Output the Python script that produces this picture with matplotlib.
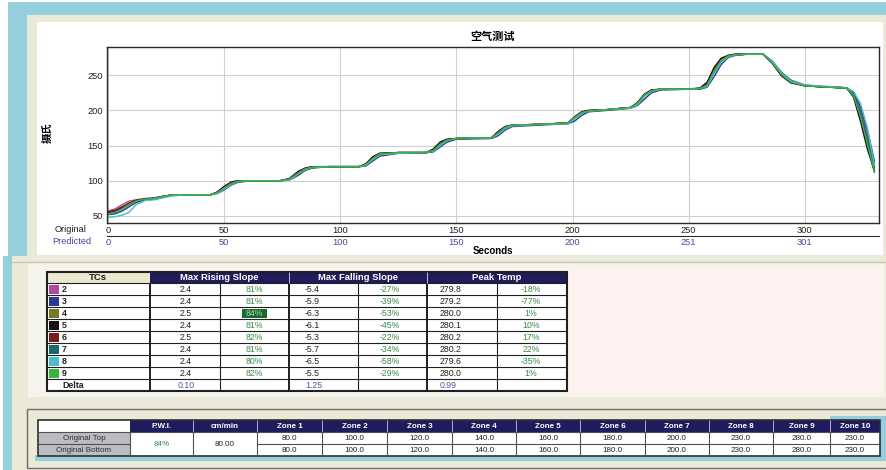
import matplotlib
matplotlib.use('Agg')
import matplotlib.pyplot as plt
from matplotlib.patches import Rectangle

plt.rcParams['font.family'] = ['Liberation Sans', 'Noto Sans CJK SC', 'DejaVu Sans']

# ---- chart data ----
secs = [0, 3, 6, 9, 12, 16, 20, 24, 28, 35, 44, 47, 50, 53, 56, 62, 74, 78, 82, 85,
        88, 95, 108, 111, 114, 117, 125, 137, 140, 143, 146, 150, 165, 168, 171, 174,
        185, 198, 201, 204, 207, 215, 225, 228, 231, 234, 238, 250, 255, 258, 261, 264,
        267, 270, 276, 282, 286, 290, 294, 300, 310, 318, 321, 324, 327, 330]

temp_tc2 = [57, 60, 66, 71, 73, 75, 76, 78, 80, 80, 80, 84, 92, 98, 100, 100, 100, 103, 114, 118,
            120, 120, 120, 124, 134, 139, 140, 140, 144, 154, 159, 160, 161, 169, 177, 179,
            180, 182, 191, 198, 200, 201, 204, 211, 223, 229, 230, 230, 231, 238, 259, 273,
            278, 279, 280, 280, 268, 251, 241, 235, 233, 232, 224, 200, 165, 125]
temp_tc3 = [52, 53, 57, 63, 69, 73, 74, 77, 79, 80, 80, 82, 87, 94, 98, 100, 100, 101, 108, 115,
            118, 120, 120, 121, 128, 135, 139, 140, 141, 148, 155, 159, 160, 164, 172, 177,
            179, 181, 185, 193, 198, 200, 203, 207, 216, 225, 229, 230, 230, 233, 248, 265,
            275, 278, 280, 280, 270, 254, 243, 236, 233, 232, 226, 205, 172, 128]
temp_tc4 = [54, 56, 61, 67, 71, 74, 75, 78, 80, 80, 80, 83, 90, 97, 99, 100, 100, 102, 112, 117,
            119, 120, 120, 123, 133, 138, 140, 140, 143, 153, 158, 160, 161, 168, 176, 179,
            180, 182, 190, 197, 199, 201, 204, 210, 222, 228, 230, 230, 231, 236, 257, 272,
            277, 279, 280, 280, 268, 250, 240, 235, 233, 232, 221, 190, 150, 112]
temp_tc5 = [55, 57, 62, 68, 72, 74, 75, 78, 80, 80, 80, 84, 92, 98, 100, 100, 100, 103, 113, 118,
            120, 120, 120, 124, 134, 139, 140, 140, 145, 155, 159, 160, 161, 170, 177, 179,
            180, 182, 191, 198, 200, 201, 204, 211, 223, 229, 230, 230, 232, 240, 261, 274,
            278, 280, 280, 280, 267, 249, 239, 235, 233, 232, 219, 185, 145, 115]
temp_tc6 = [56, 58, 63, 68, 72, 74, 75, 78, 80, 80, 80, 83, 91, 97, 99, 100, 100, 102, 112, 117,
            119, 120, 120, 123, 132, 138, 140, 140, 143, 153, 158, 160, 161, 168, 176, 179,
            180, 182, 190, 197, 199, 201, 204, 210, 222, 228, 230, 230, 231, 237, 258, 272,
            277, 279, 280, 280, 268, 250, 240, 235, 233, 232, 222, 193, 155, 120]
temp_tc7 = [53, 55, 60, 66, 71, 74, 75, 78, 80, 80, 80, 83, 89, 96, 99, 100, 100, 102, 111, 117,
            119, 120, 120, 122, 131, 137, 140, 140, 142, 151, 157, 160, 161, 167, 175, 178,
            180, 182, 189, 196, 199, 201, 204, 209, 221, 228, 230, 230, 231, 235, 255, 270,
            277, 279, 280, 280, 269, 252, 241, 235, 233, 232, 223, 197, 160, 118]
temp_tc8 = [48, 49, 51, 55, 66, 72, 73, 76, 79, 80, 80, 82, 88, 95, 99, 100, 100, 101, 110, 116,
            119, 120, 120, 122, 130, 137, 139, 140, 142, 150, 157, 160, 161, 166, 174, 178,
            180, 181, 188, 196, 199, 201, 203, 208, 220, 227, 230, 230, 231, 234, 252, 268,
            276, 279, 280, 280, 270, 253, 242, 236, 234, 232, 227, 210, 175, 122]
temp_tc9 = [53, 55, 60, 66, 71, 74, 75, 78, 80, 80, 80, 83, 90, 96, 99, 100, 100, 102, 111, 117,
            119, 120, 120, 123, 132, 138, 140, 140, 143, 152, 158, 160, 161, 168, 176, 179,
            180, 182, 190, 197, 199, 201, 204, 210, 222, 228, 230, 230, 231, 236, 256, 271,
            277, 279, 280, 280, 268, 251, 240, 235, 233, 232, 221, 192, 152, 114]

tc_names = ['2', '3', '4', '5', '6', '7', '8', '9']
tc_colors = ['#b4489e', '#2c3a96', '#727a2a', '#141414', '#7a1a1a', '#1a6a6c', '#4cbcd2', '#3cb23c']
tc_temps = [temp_tc2, temp_tc3, temp_tc4, temp_tc5, temp_tc6, temp_tc7, temp_tc8, temp_tc9]

orig_ticks = [0, 50, 100, 150, 200, 250, 300]
pred_labels = ['0', '50', '100', '150', '200', '251', '301']

rise_vals = ['2.4', '2.4', '2.5', '2.4', '2.5', '2.4', '2.4', '2.4']
rise_pct = ['81%', '81%', '84%', '81%', '82%', '81%', '80%', '82%']
fall_vals = ['-5.4', '-5.9', '-6.3', '-6.1', '-5.3', '-5.7', '-6.5', '-5.5']
fall_pct = ['-27%', '-39%', '-53%', '-45%', '-22%', '-34%', '-58%', '-29%']
peak_vals = ['279.8', '279.2', '280.0', '280.1', '280.2', '280.2', '279.6', '280.0']
peak_pct = ['-18%', '-77%', '1%', '10%', '17%', '22%', '-35%', '1%']
delta_vals = ['0.10', '1.25', '0.99']

zone_names = ['Zone 1', 'Zone 2', 'Zone 3', 'Zone 4', 'Zone 5',
              'Zone 6', 'Zone 7', 'Zone 8', 'Zone 9', 'Zone 10']
zone_top = ['80.0', '100.0', '120.0', '140.0', '160.0', '180.0', '200.0', '230.0', '280.0', '230.0']
zone_bottom = ['80.0', '100.0', '120.0', '140.0', '160.0', '180.0', '200.0', '230.0', '280.0', '230.0']
pwi = '84%'
speed = '80.00'

# colours
BLUE = '#93cfdc'
BEIGE = '#ebe9d8'
NAVY = '#1f1b5c'
GREEN_TXT = '#3a8a48'
DELTA_TXT = '#5454a6'
DARK = '#202020'

W, H = 887, 470
fig = plt.figure(figsize=(W / 100, H / 100), dpi=100)
fig.patch.set_facecolor('white')

# background "screen" drawn in pixel coordinates
bg = fig.add_axes([0, 0, 1, 1], zorder=0)
bg.set_xlim(0, W)
bg.set_ylim(H, 0)
bg.axis('off')


def box(x0, y0, x1, y1, fc, ec='none', lw=0):
    bg.add_patch(Rectangle((x0, y0), x1 - x0, y1 - y0, facecolor=fc, edgecolor=ec, linewidth=lw))


def hl(y, x0, x1, c=DARK, lw=0.8):
    bg.plot([x0, x1], [y, y], color=c, lw=lw, solid_capstyle='butt')


def vl(x, y0, y1, c=DARK, lw=0.8):
    bg.plot([x, x], [y0, y1], color=c, lw=lw, solid_capstyle='butt')


def txt(x, y, s, ha='center', color=DARK, size=6.3, weight='normal'):
    bg.text(x, y, s, ha=ha, va='center', color=color, fontsize=size, fontweight=weight)


# outer window
box(8, 2, W, 15, BLUE)
box(8, 15, 27, 256, BLUE)
box(3, 256, 12, H, BLUE)
box(27, 15, W, 258, BEIGE)
box(37, 22, 883, 255, 'white')
box(12, 256, W, H, BEIGE)
hl(262, 12, W, c='#c9c7b2', lw=1)
box(28, 263, 885, 397, '#f5f4ec')
box(567, 268, 882, 393, '#fdf2ef')

# bottom panel
box(27, 409, W, 468, BEIGE, ec='#6e6e6e', lw=1)
box(35, 455, W, 461, BLUE)
box(830, 416, W, 461, BLUE)

# ---- middle table ----
mcols = [47, 150, 220, 289, 358, 427, 497, 567]
mtop, mhead, mrow = 272, 283, 12
nrows = len(tc_names) + 1
mbot = mhead + mrow * nrows
box(47, mtop, 150, mhead, '#ebe8cf')
box(150, mtop, 567, mhead, NAVY)
box(47, mhead, 567, mbot, 'white')
txt(98, 277.5, 'TCs', weight='bold', size=6.8)
txt(219.5, 277.5, 'Max Rising Slope', color='white', weight='bold', size=6.8)
txt(358, 277.5, 'Max Falling Slope', color='white', weight='bold', size=6.8)
txt(497, 277.5, 'Peak Temp', color='white', weight='bold', size=6.8)

for i, name in enumerate(tc_names):
    yc = mhead + mrow * i + mrow / 2
    box(49, yc - 4.5, 59, yc + 4.5, tc_colors[i])
    txt(62, yc, name, ha='left', weight='bold')
    txt(180, yc, rise_vals[i], ha='left')
    if rise_pct[i] == '84%':
        box(242, yc - 4.5, 267, yc + 4.5, '#17692f')
        txt(254.5, yc, rise_pct[i], color='#a8dcb0')
    else:
        txt(254.5, yc, rise_pct[i], color=GREEN_TXT)
    txt(305, yc, fall_vals[i], ha='left')
    txt(390, yc, fall_pct[i], color=GREEN_TXT)
    txt(440, yc, peak_vals[i], ha='left')
    txt(531, yc, peak_pct[i], color=GREEN_TXT)

yc = mhead + mrow * (nrows - 1) + mrow / 2
txt(62, yc, 'Delta', ha='left', weight='bold')
for x, s in zip([178, 305, 440], delta_vals):
    txt(x, yc, s, ha='left', color=DELTA_TXT)

for k in range(1, nrows):
    hl(mhead + mrow * k, 47, 567)
hl(mhead, 47, 567)
for x in mcols[1:-1]:
    lw = 1.4 if x in (150, 289, 427) else 0.8
    vl(x, mhead, mbot, lw=lw)
vl(289, mtop, mhead, c='#d8d8e8', lw=0.6)
vl(427, mtop, mhead, c='#d8d8e8', lw=0.6)
box(47, mtop, 567, mbot, 'none', ec=DARK, lw=1.5)

# ---- bottom table ----
bcols = [38, 130, 193, 257, 322, 387, 452, 516, 580, 645, 709, 773, 830, 880]
btop, bhead, brow = 420, 432, 12
bbot = bhead + 2 * brow
box(38, btop, 130, bhead, 'white')
box(130, btop, 880, bhead, NAVY)
box(38, bhead, 130, bbot, '#bcbcc0')
box(130, bhead, 880, bbot, 'white')
heads = ['P.W.I.', 'cm/min'] + zone_names
for j, s in enumerate(heads):
    xc = (bcols[j + 1] + bcols[j + 2]) / 2
    txt(xc, (btop + bhead) / 2, s, color='white', size=5.8, weight='bold')
    if j > 0:
        vl(bcols[j + 1], btop, bhead, c='#c8c8dc', lw=0.6)
txt(84, bhead + brow / 2, 'Original Top', color='#303030', size=5.8)
txt(84, bhead + 1.5 * brow, 'Original Bottom', color='#303030', size=5.8)
txt((130 + 193) / 2, bhead + brow, pwi, color=GREEN_TXT, size=5.8)
txt((193 + 257) / 2, bhead + brow, speed, size=5.8)
for j in range(len(zone_names)):
    xc = (bcols[j + 3] + bcols[j + 4]) / 2
    txt(xc, bhead + brow / 2, zone_top[j], size=5.8)
    txt(xc, bhead + 1.5 * brow, zone_bottom[j], size=5.8)
hl(bhead + brow, 38, 130, c='#505050')
hl(bhead + brow, 257, 880, c='#505050')
hl(bhead, 38, 880, c='#505050')
for x in bcols[1:-1]:
    vl(x, bhead, bbot, c='#505050')
box(38, btop, 880, bbot, 'none', ec='#303030', lw=1.2)

# ---- temperature chart ----
L, R, T, B = 107, 879, 47, 223
ax = fig.add_axes([L / W, 1 - B / H, (R - L) / W, (B - T) / H], zorder=2)
ax.set_facecolor('white')
for name, color, temps in zip(tc_names, tc_colors, tc_temps):
    ax.plot(secs, temps, color=color, lw=1.05, label=name)

ax.set_xlim(-0.5, 332)
ax.set_ylim(40, 290)
ax.set_yticks([50, 100, 150, 200, 250])
ax.set_xticks(orig_ticks)
ax.grid(True, color='#cfcfcf', lw=0.8)
ax.set_axisbelow(True)
ax.tick_params(axis='both', length=0, labelsize=6.7, colors=DARK)
ax.tick_params(axis='x', pad=2.5)
ax.tick_params(axis='y', pad=3)
for sp in ax.spines.values():
    sp.set_color('#2a2a2a')
    sp.set_linewidth(1)

ax.set_title('空气测试', fontsize=8, fontweight='bold', pad=5)
ax.set_ylabel('摄氏', fontsize=7.5, fontweight='bold')
ax.yaxis.label.set_va('center')
ax.yaxis.set_label_coords(-(L - 48) / (R - L), (B - 133) / (B - T))
ax.set_xlabel('Seconds', fontsize=7, fontweight='bold')
ax.xaxis.label.set_va('center')
ax.xaxis.set_label_coords(0.5, -(251 - B) / (B - T))

pred = ax.secondary_xaxis(-(236 - B) / (B - T))
pred.set_xticks(orig_ticks, labels=pred_labels)
pred.tick_params(length=0, labelsize=6.7, labelcolor='#4a4aa2', pad=1.5)
pred.spines['bottom'].set_color('#2a2a2a')

fig.text(87 / W, 1 - 230 / H, 'Original', ha='right', va='center', fontsize=6.7, color=DARK)
fig.text(91 / W, 1 - 241 / H, 'Predicted', ha='right', va='center', fontsize=6.7, color='#4a4aa2')

fig.savefig('out.png', dpi=100)
